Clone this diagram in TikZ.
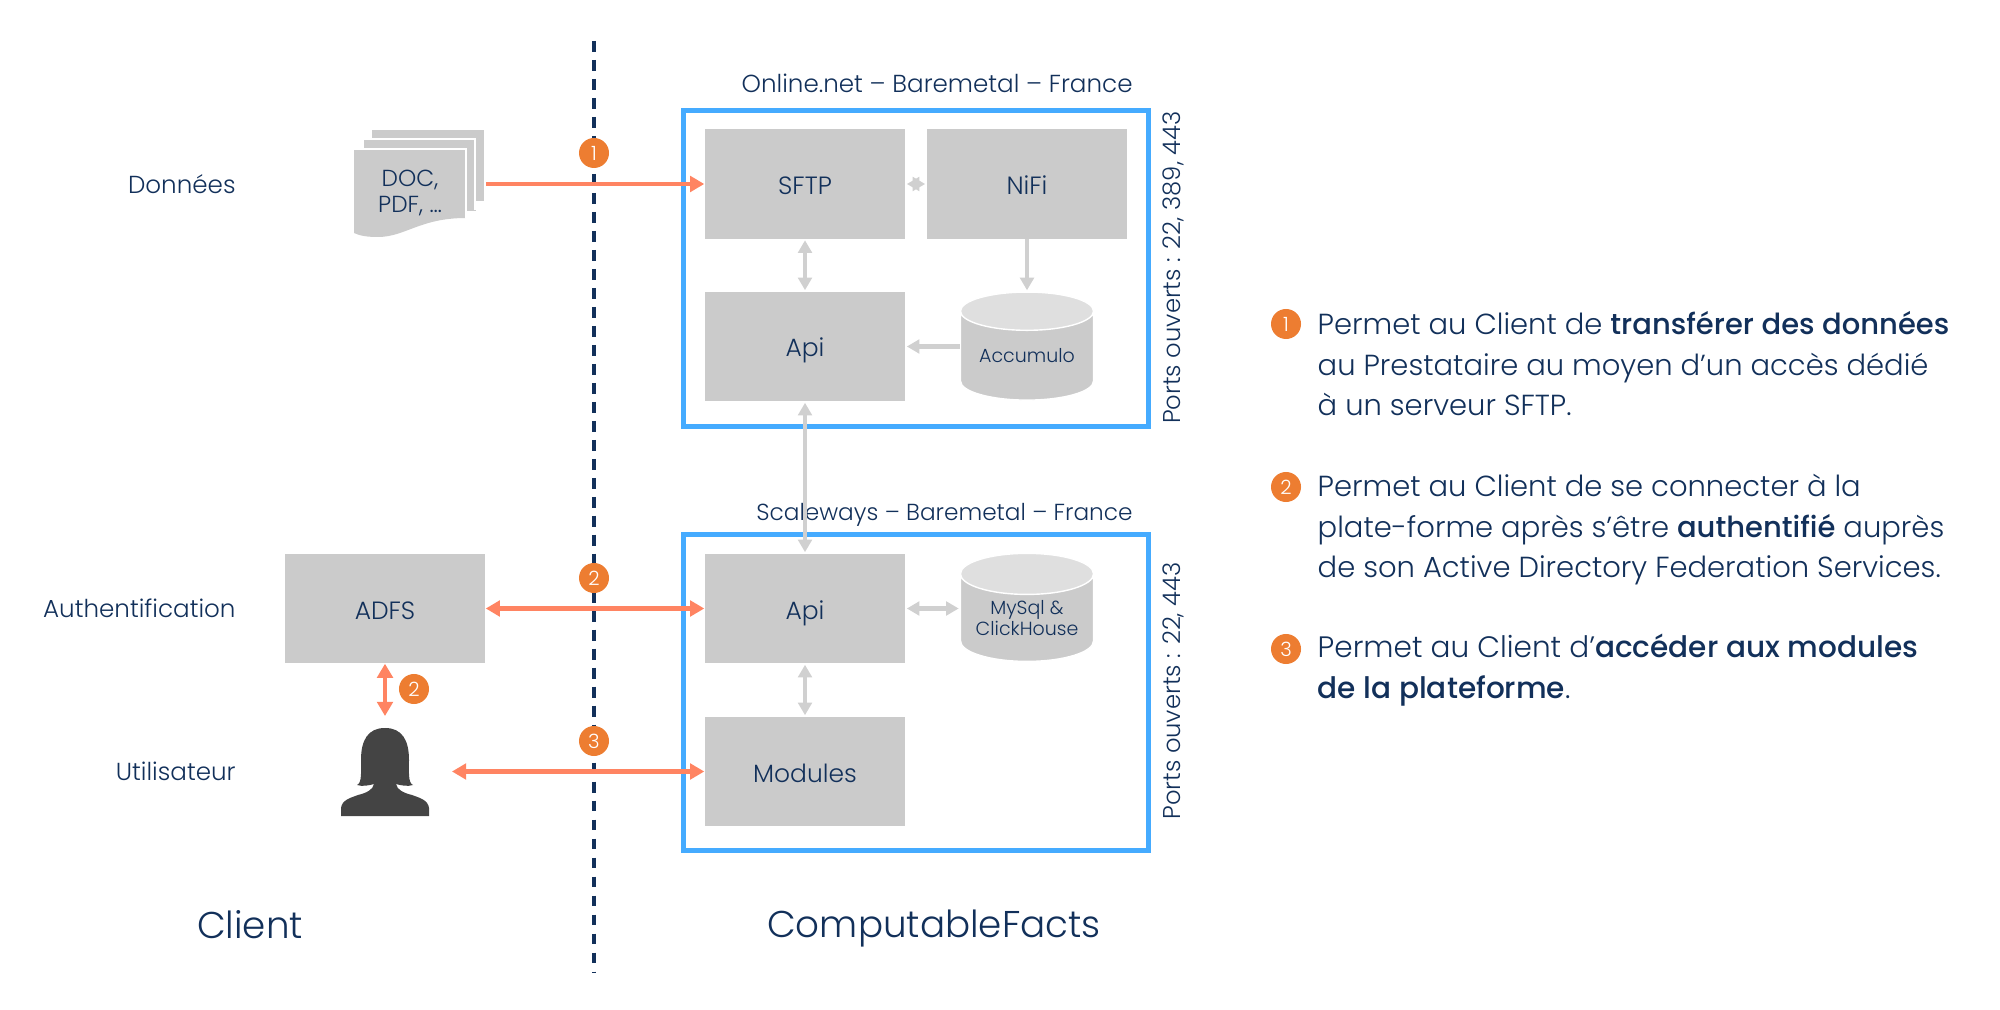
\documentclass[tikz,border=0pt]{standalone}
\usepackage{fontspec}
\setmainfont{Poppins Light}[BoldFont={Poppins Medium}]
\usetikzlibrary{arrows.meta,shapes.geometric}
\definecolor{navy}{HTML}{12305A}
\definecolor{boxgrey}{HTML}{CBCBCB}
\definecolor{topgrey}{HTML}{DFDFDF}
\definecolor{arrowgrey}{HTML}{D0D0D0}
\definecolor{frameblue}{HTML}{45ABFF}
\definecolor{salmon}{HTML}{FF8462}
\definecolor{badgeorange}{HTML}{ED7D31}
\definecolor{persongrey}{HTML}{444444}
\tikzset{
	greybox/.style = {fill=boxgrey, text=navy, minimum width=2cm, minimum height=1.09cm, inner sep=0pt, text height=2.1mm, text depth=0mm, font=\fontsize{7.1}{8}\selectfont},
	frame/.style = {draw=frameblue, line width=1.45pt, minimum width=4.65cm, minimum height=3.16cm, inner sep=0pt},
	store/.style = {cylinder, shape border rotate=90, aspect=.4, draw=white, line width=.4pt, cylinder uses custom fill, cylinder body fill=boxgrey, cylinder end fill=topgrey, minimum width=1.33cm, minimum height=1.08cm, inner sep=0pt, text=navy, align=center, font=\fontsize{5.4}{5.8}\selectfont},
	badge/.style = {circle, fill=badgeorange, text=white, minimum size=.3cm, inner sep=0pt, font=\fontsize{5.6}{6}\selectfont},
	salmonarrow/.style = {draw=salmon, line width=1.35pt, -{Triangle[length=4pt,width=4.4pt]}},
	salmonboth/.style = {draw=salmon, line width=1.35pt, {Triangle[length=4pt,width=4.4pt]}-{Triangle[length=4pt,width=4.4pt]}},
	greyarrow/.style = {draw=arrowgrey, line width=1.25pt, -{Triangle[length=3.6pt,width=3.9pt]}, shorten >=.3pt},
	greyboth/.style = {draw=arrowgrey, line width=1.25pt, {Triangle[length=3.6pt,width=3.9pt]}-{Triangle[length=3.6pt,width=3.9pt]}, shorten >=.3pt, shorten <=.3pt},
	sidelabel/.style = {anchor=east, text=navy, font=\fontsize{7}{8}\selectfont},
	title/.style = {anchor=east, text=navy, font=\fontsize{7}{8}\selectfont},
	ports/.style = {rotate=90, text=navy, font=\fontsize{6.9}{8}\selectfont},
	bigtitle/.style = {text=navy, font=\fontsize{10.6}{12}\selectfont},
	para/.style = {anchor=west, align=left, text=navy, inner sep=0pt, font=\fontsize{8.25}{11.5}\selectfont}
}
\begin{document}
\begin{tikzpicture}[x=.01cm, y=-.01cm]
	\useasboundingbox (0,0) rectangle (2000,1010);
	\draw [navy, line width=1.1pt, dash pattern=on 3.1pt off 2.3pt] (594,41) -- (594,972);
	\node [frame] (onlinebox) at (916,268.7) {};
	\node [frame] (scalebox) at (916,692.5) {};
	\node [title] (onlinetitle) at (1145,83) {Online.net – Baremetal – France};
	\node [title, font=\fontsize{6.6}{8}\selectfont] (scaletitle) at (1145,515) {Scaleways – Baremetal – France};
	\node [ports] (onlineports) at (1173,267.5) {Ports ouverts : 22, 389, 443};
	\node [ports] (scaleports) at (1173,691) {Ports ouverts : 22, 443};
	\node [greybox] (sftp) at (805,184) {SFTP};
	\node [greybox] (nifi) at (1027,184) {NiFi};
	\node [greybox] (apitop) at (805,346.5) {Api};
	\node [greybox] (apibottom) at (805,608.5) {Api};
	\node [greybox] (modules) at (805,771.5) {Modules};
	\node [greybox] (adfs) at (385,608.5) {ADFS};
	\node [store] (accumulo) at (1027,356) {Accumulo};
	\node [store] (mysql) at (1027,618) {MySql \&\\ClickHouse};
	\fill [boxgrey] (372,130) -- (484,130) -- (484,201) -- (372,201) -- cycle;
	\draw [boxgrey, fill=boxgrey] (363,139) -- (475,139) -- (475,210) -- (363,210) -- cycle;
	\draw [white, line width=.5pt] (363,201) -- (363,139) -- (475,139) -- (475,210);
	\fill [boxgrey] (354,149) -- (466,149) -- (466,218) .. controls (420,218) and (405,237) .. (378,237) .. controls (368,237) and (360,236) .. (354,233) -- cycle;
	\draw [white, line width=.5pt] (354,149) -- (466,149) -- (466,218);
	\node [text=navy, align=center, inner sep=0pt, font=\fontsize{6.6}{7.4}\selectfont] (docs) at (410,193) {DOC,\\PDF, …};
	\fill [persongrey] (341,816) -- (341,808) .. controls (342,800) and (350,798) .. (358,795) .. controls (366,793) and (373,790) .. (374,784) .. controls (371,785) and (362,787) .. (357,785) .. controls (362,783) and (361,772) .. (361,760) .. controls (361,740) and (368,728) .. (385,728) .. controls (402,728) and (409,740) .. (409,760) .. controls (409,772) and (408,783) .. (413,785) .. controls (408,787) and (399,785) .. (396,784) .. controls (397,790) and (404,793) .. (412,795) .. controls (420,798) and (428,800) .. (429,808) -- (429,816) -- cycle;
	\coordinate (docsout) at (486,184);
	\coordinate (usertop) at (385,716);
	\coordinate (userright) at (452,771.5);
	\draw [salmonarrow] (docsout) -- (sftp);
	\draw [salmonboth] (adfs) -- (apibottom);
	\draw [salmonboth] (adfs) -- (usertop);
	\draw [salmonboth] (userright) -- (modules);
	\draw [greyboth] (sftp) -- (nifi);
	\draw [greyboth] (sftp) -- (apitop);
	\draw [greyarrow] (nifi) -- (accumulo.top);
	\draw [greyarrow] (accumulo.west |- apitop) -- (apitop);
	\draw [greyboth] (apitop) -- (apibottom);
	\draw [greyboth] (apibottom) -- (apibottom -| mysql.west);
	\draw [greyboth] (apibottom) -- (modules);
	\node [badge] (mark1) at (594,153) {1};
	\node [badge] (mark2) at (594,578) {2};
	\node [badge] (mark2b) at (414,689) {2};
	\node [badge] (mark3) at (594,741) {3};
	\node [sidelabel] (donnees) at (248,184) {Données};
	\node [sidelabel] (authent) at (248,608) {Authentification};
	\node [sidelabel] (utilisateur) at (248,771) {Utilisateur};
	\node [bigtitle] (client) at (250,925) {Client};
	\node [bigtitle] (computable) at (934,929) {ComputableFacts};
	\node [badge] (list1) at (1286,324) {1};
	\node [badge] (list2) at (1286,487) {2};
	\node [badge] (list3) at (1286,649) {3};
	\node [para] (para1) at (1317,364) {Permet au Client de \textbf{transférer des données}\\au Prestataire au moyen d’un accès dédié\\à un serveur SFTP.};
	\node [para] (para2) at (1317,530) {Permet au Client de se connecter à la\\plate-forme après s’être \textbf{authentifié} auprès\\de son Active Directory Federation Services.};
	\node [para, font=\fontsize{8.4}{11.5}\selectfont] (para3) at (1317,670) {Permet au Client d’\textbf{accéder aux modules}\\\textbf{de la plateforme}.};
\end{tikzpicture}
\end{document}
